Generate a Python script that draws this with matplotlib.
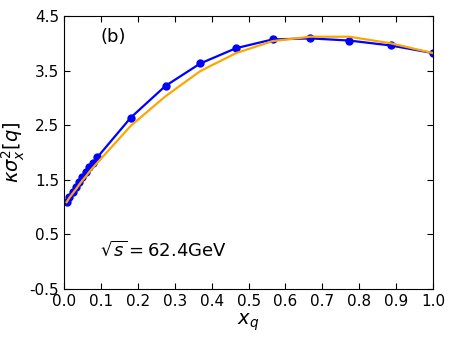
import matplotlib.pyplot as plt

plt.rcParams['axes.unicode_minus'] = False

# data
x_q = [0.007, 0.0145, 0.0235, 0.0325, 0.041, 0.05, 0.06, 0.069, 0.078, 0.09,
       0.181, 0.275, 0.369, 0.466, 0.565, 0.667, 0.773, 0.885, 1.0]
kappa_blue = [1.09, 1.19, 1.28, 1.37, 1.465, 1.56, 1.64, 1.73, 1.81, 1.91,
              2.64, 3.22, 3.63, 3.91, 4.07, 4.09, 4.05, 3.96, 3.82]
kappa_orange = [1.09, 1.17, 1.25, 1.33, 1.41, 1.49, 1.57, 1.65, 1.72, 1.81,
                2.49, 3.03, 3.49, 3.82, 4.04, 4.12, 4.12, 4.00, 3.82]
x_ticks = [0.0, 0.1, 0.2, 0.3, 0.4, 0.5, 0.6, 0.7, 0.8, 0.9, 1.0]
y_ticks = [-0.5, 0.5, 1.5, 2.5, 3.5, 4.5]

fig = plt.figure(figsize=(4.54, 3.4), dpi=100)
ax = fig.add_axes([0.141, 0.15, 0.813, 0.803])

ax.plot(x_q, kappa_blue, color='#0000ff', lw=1.6, marker='o', ms=5, zorder=2)
ax.plot(x_q, kappa_orange, color='#ffa500', lw=1.6, zorder=3)

ax.set_xlim(0, 1)
ax.set_ylim(-0.5, 4.5)
ax.set_xticks(x_ticks)
ax.set_xticklabels([f"{v:.1f}" for v in x_ticks])
ax.set_yticks(y_ticks)
ax.set_yticklabels([f"{v:.1f}" for v in y_ticks])
ax.tick_params(direction='in', top=True, right=True, labelsize=11, length=4)

ax.set_xlabel('$x_q$', fontsize=14, labelpad=2)
ax.set_ylabel(r'$\kappa\sigma_x^2[q]$', fontsize=14, labelpad=2)

ax.text(0.098, 4.02, '(b)', fontsize=13)
ax.text(0.098, 0.1, r'$\sqrt{s}=62.4$GeV', fontsize=13)

fig.savefig('out.png', dpi=100)
